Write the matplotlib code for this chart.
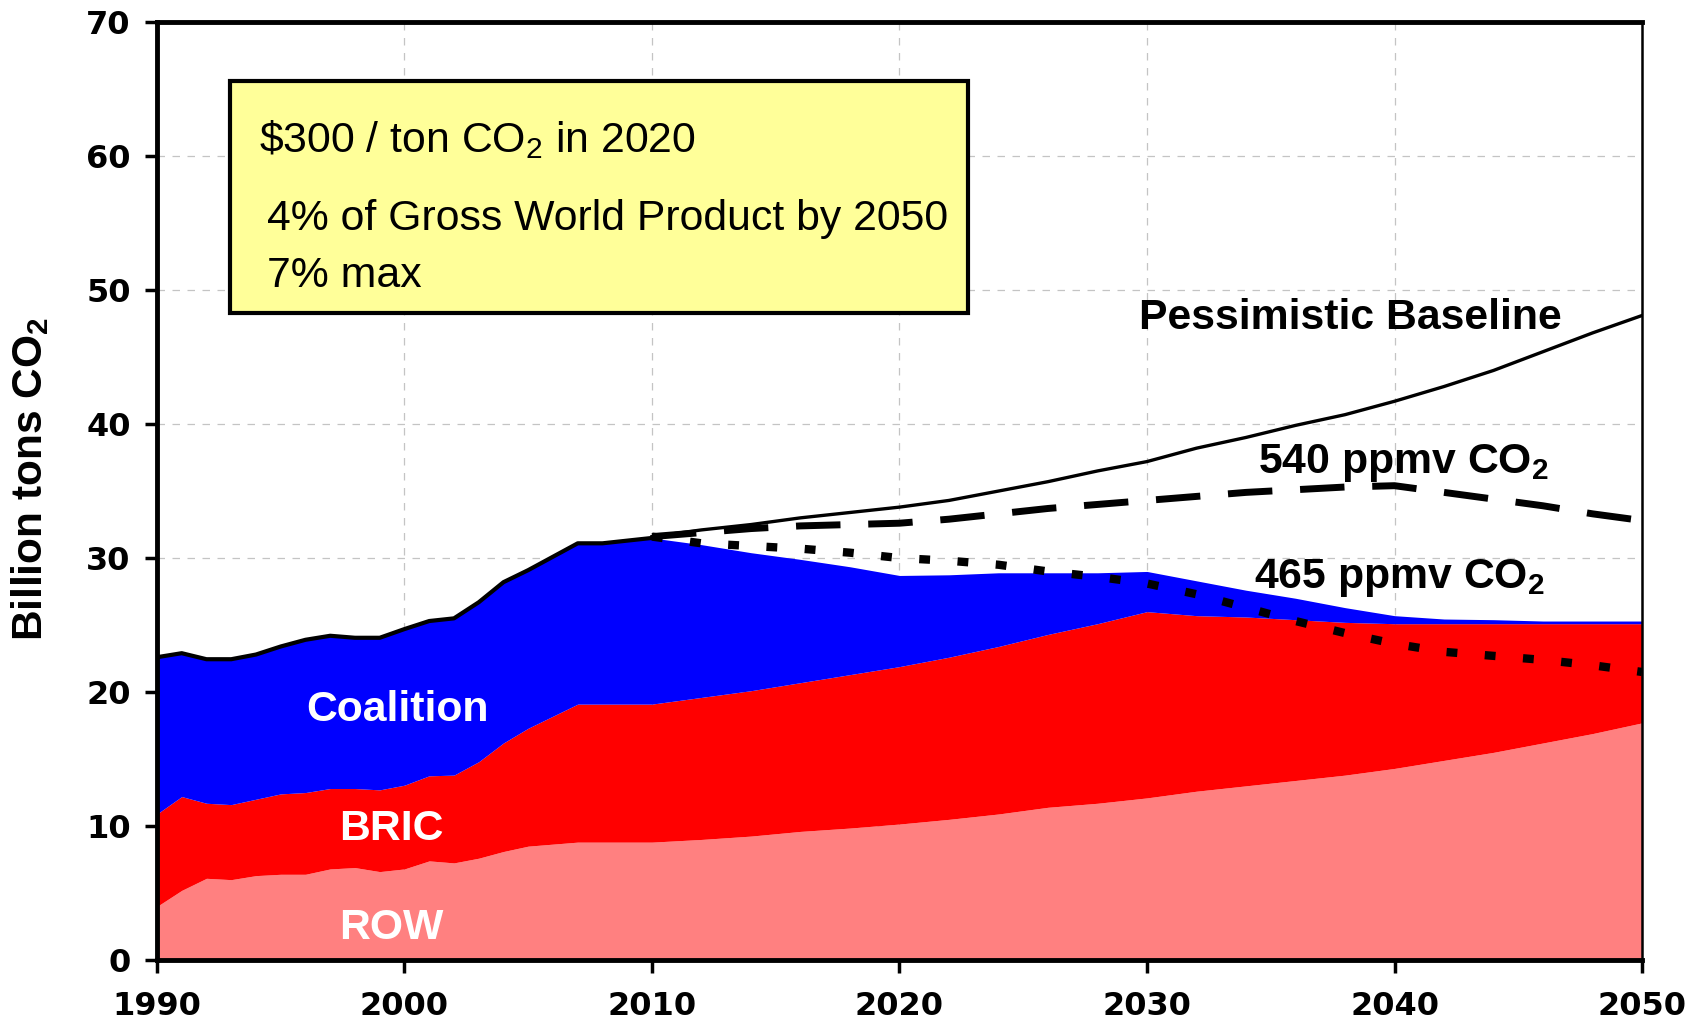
#!/usr/bin/env python3
# CO2 emissions by region, with baseline and stabilisation paths
import numpy as np
import matplotlib
matplotlib.use('Agg')
from matplotlib import pyplot as plt
from matplotlib.patches import Rectangle

plt.rcParams['mathtext.default'] = 'regular'

years = [1990, 1991, 1992, 1993, 1994, 1995, 1996, 1997, 1998, 1999, 2000,
         2001, 2002, 2003, 2004, 2005, 2006, 2007, 2008, 2009, 2010,
         2012, 2014, 2016, 2018, 2020, 2022, 2024, 2026, 2028, 2030,
         2032, 2034, 2036, 2038, 2040, 2042, 2044, 2046, 2048, 2050]
# stacked tops (billion tons CO2)
row_top = [4.0, 5.2, 6.1, 6.0, 6.3, 6.4, 6.4, 6.8, 6.9, 6.6, 6.8,
           7.4, 7.25, 7.6, 8.1, 8.5, 8.65, 8.8, 8.8, 8.8, 8.8,
           9.0, 9.25, 9.6, 9.85, 10.15, 10.5, 10.9, 11.4, 11.7, 12.1,
           12.6, 13.0, 13.4, 13.8, 14.3, 14.9, 15.5, 16.2, 16.9, 17.7]
bric_top = [10.9, 12.2, 11.7, 11.6, 12.0, 12.4, 12.5, 12.8, 12.8, 12.7, 13.05,
            13.75, 13.8, 14.8, 16.2, 17.3, 18.2, 19.1, 19.1, 19.1, 19.1,
            19.6, 20.1, 20.7, 21.3, 21.9, 22.6, 23.4, 24.3, 25.1, 26.0,
            25.7, 25.6, 25.4, 25.2, 25.1, 25.1, 25.1, 25.1, 25.1, 25.1]
coal_top = [22.6, 22.9, 22.45, 22.45, 22.8, 23.4, 23.9, 24.2, 24.05, 24.05, 24.7,
            25.3, 25.5, 26.7, 28.2, 29.1, 30.1, 31.1, 31.1, 31.3, 31.5,
            31.0, 30.4, 29.9, 29.35, 28.7, 28.75, 28.9, 28.9, 28.9, 29.0,
            28.3, 27.6, 27.0, 26.3, 25.7, 25.45, 25.4, 25.3, 25.3, 25.3]

proj_years = [2010, 2012, 2014, 2016, 2018, 2020, 2022, 2024, 2026, 2028, 2030,
              2032, 2034, 2036, 2038, 2040, 2042, 2044, 2046, 2048, 2050]
baseline = [31.6, 32.1, 32.5, 33.0, 33.4, 33.8, 34.3, 35.0, 35.7, 36.5, 37.2,
            38.2, 39.0, 39.9, 40.7, 41.7, 42.8, 44.0, 45.4, 46.8, 48.1]
ppm540 = [31.6, 31.9, 32.2, 32.4, 32.5, 32.6, 32.9, 33.3, 33.7, 34.0, 34.3,
          34.6, 34.9, 35.1, 35.3, 35.4, 34.9, 34.4, 33.9, 33.3, 32.8]
ppm465 = [31.6, 31.1, 30.9, 30.7, 30.4, 30.0, 29.8, 29.5, 29.0, 28.6, 28.1,
          27.3, 26.3, 25.3, 24.4, 23.6, 23.0, 22.7, 22.4, 22.0, 21.5]

fig = plt.figure(figsize=(16.97, 10.21), dpi=100)
ax = fig.add_axes([0.0925, 0.0597, 0.8751, 0.9187])

ax.fill_between(years, 0, row_top, color='#ff8080', lw=0)
ax.fill_between(years, row_top, bric_top, color='#ff0000', lw=0)
ax.fill_between(years, bric_top, coal_top, color='#0000ff', lw=0)

hist = [y <= 2010 for y in years]
hx = np.array(years)[hist]
hy = np.array(coal_top)[hist]
ax.plot(hx, hy, color='black', lw=3.0, zorder=4)
ax.plot(proj_years, baseline, color='black', lw=2.4, zorder=4)
ax.plot(proj_years, ppm540, color='black', lw=5, dashes=(6.4, 4.0), zorder=4)
ax.plot(proj_years, ppm465, color='black', lw=6, dashes=(1.3, 3.3), zorder=4)

ax.set_xlim(1990, 2050)
ax.set_ylim(0, 70)
ax.set_xticks(range(1990, 2051, 10))
ax.set_yticks(range(0, 71, 10))
ax.set_axisbelow(True)
ax.grid(True, ls=(0, (6, 6)), lw=0.9, color='#c4c4c4')
for lab in ax.get_xticklabels() + ax.get_yticklabels():
    lab.set_fontweight('bold')
    lab.set_family('DejaVu Sans')
ax.tick_params(axis='both', labelsize=23, length=9, width=2.5, direction='out')
ax.tick_params(axis='x', pad=13)
ax.tick_params(axis='y', pad=10)
for s in ['left', 'bottom', 'top']:
    ax.spines[s].set_linewidth(3.5)
ax.spines['right'].set_linewidth(1.8)

ax.set_ylabel('Billion tons CO$_2$', fontsize=30.5, fontweight='bold',
              family='Liberation Sans')
ax.yaxis.set_label_coords(-0.0714, 0.513)

sans = 'Liberation Sans'
fs = 30.8
ax.add_patch(Rectangle((0.0495, 0.690), 0.4965, 0.247, transform=ax.transAxes,
                       facecolor='#ffff99', edgecolor='black', lw=3, zorder=6))
ax.text(0.0687, 0.861, r'\$300 / ton CO$_2$ in 2020',
        transform=ax.transAxes, fontsize=fs, family=sans, zorder=7)
ax.text(0.074, 0.778, '4% of Gross World Product by 2050',
        transform=ax.transAxes, fontsize=fs, family=sans, zorder=7)
ax.text(0.074, 0.7175, '7% max',
        transform=ax.transAxes, fontsize=fs, family=sans, zorder=7)

ax.text(0.661, 0.673, 'Pessimistic Baseline', transform=ax.transAxes,
        fontsize=fs, fontweight='bold', family=sans, zorder=7)
ax.text(0.7414, 0.519, '540 ppmv CO$_2$', transform=ax.transAxes,
        fontsize=fs, fontweight='bold', family=sans, zorder=7)
ax.text(0.7387, 0.3966, '465 ppmv CO$_2$', transform=ax.transAxes,
        fontsize=fs, fontweight='bold', family=sans, zorder=7)
ax.text(0.1003, 0.2548, 'Coalition', transform=ax.transAxes, color='white',
        fontsize=fs, fontweight='bold', family=sans, zorder=7)
ax.text(0.1224, 0.128, 'BRIC', transform=ax.transAxes, color='white',
        fontsize=fs, fontweight='bold', family=sans, zorder=7)
ax.text(0.1224, 0.0224, 'ROW', transform=ax.transAxes, color='white',
        fontsize=fs, fontweight='bold', family=sans, zorder=7)

plt.savefig('out.png', dpi=100)
